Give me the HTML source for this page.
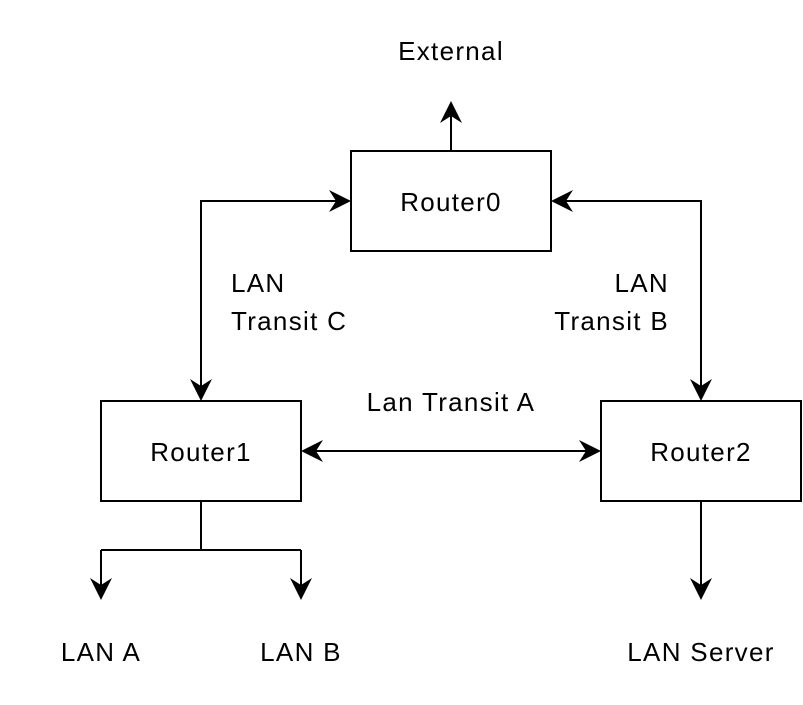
<!DOCTYPE html>
<html><head><style>
body{margin:0;background:#fff;}
svg text{font-family:"Liberation Sans",Arial,sans-serif;font-size:26px;letter-spacing:1.3px;fill:#000;}
</style></head><body>
<svg width="803" height="700" viewBox="0 0 803 700" xmlns="http://www.w3.org/2000/svg">
<defs>
<path id="ad" d="M0,0 L-11,-22 L0,-15 L11,-22 Z" fill="#000"/>
</defs>
<g fill="none" stroke="#000" stroke-width="2">
<rect x="351" y="151" width="200" height="100" fill="#fff"/>
<rect x="101" y="401" width="200" height="100" fill="#fff"/>
<rect x="601" y="401" width="200" height="100" fill="#fff"/>
<path d="M451,151 V110"/>
<path d="M336,201 H201 V386"/>
<path d="M566,201 H701 V386"/>
<path d="M316,451 H586"/>
<path d="M201,501 V550"/>
<path d="M101,550 H301"/>
<path d="M101,550 V585"/>
<path d="M301,550 V585"/>
<path d="M701,501 V585"/>
</g>
<use href="#ad" transform="translate(451,101) rotate(180)"/>
<use href="#ad" transform="translate(351,201) rotate(-90)"/>
<use href="#ad" transform="translate(201,401)"/>
<use href="#ad" transform="translate(551,201) rotate(90)"/>
<use href="#ad" transform="translate(701,401)"/>
<use href="#ad" transform="translate(301,451) rotate(90)"/>
<use href="#ad" transform="translate(601,451) rotate(-90)"/>
<use href="#ad" transform="translate(101,600)"/>
<use href="#ad" transform="translate(301,600)"/>
<use href="#ad" transform="translate(701,600)"/>
<g text-anchor="middle">
<text x="451" y="60">External</text>
<text x="451" y="211">Router0</text>
<text x="201" y="461">Router1</text>
<text x="701" y="461">Router2</text>
<text x="451" y="411">Lan Transit A</text>
<text x="101" y="661">LAN A</text>
<text x="301" y="661">LAN B</text>
<text x="701" y="661">LAN Server</text>
</g>
<text x="231" y="292">LAN</text>
<text x="231" y="330">Transit C</text>
<g text-anchor="end">
<text x="669" y="292">LAN</text>
<text x="669" y="330">Transit B</text>
</g>
</svg>
</body></html>
